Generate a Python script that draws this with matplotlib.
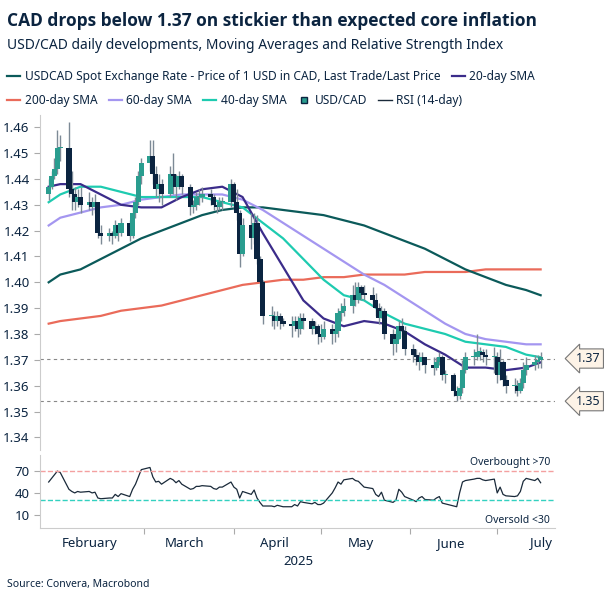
import numpy as np
import pandas as pd
import matplotlib
matplotlib.use('AGG')
import matplotlib.pyplot as plt
from matplotlib.lines import Line2D

plt.rcParams['font.family'] = ['Noto Sans', 'DejaVu Sans']

# daily candles, weekdays 27 Jan - 16 Jul 2025
closes = [1.437, 1.441, 1.444, 1.452, 1.452, 1.436, 1.434, 1.431, 1.433, 1.430,
          1.431, 1.429, 1.431, 1.419, 1.418, 1.419, 1.418, 1.422, 1.419, 1.423,
          1.418, 1.427, 1.431, 1.441, 1.446, 1.449, 1.442, 1.436, 1.438, 1.434,
          1.442, 1.441, 1.437, 1.441, 1.437, 1.429, 1.430, 1.433, 1.433, 1.434,
          1.433, 1.430, 1.429, 1.431, 1.431, 1.438, 1.431, 1.427, 1.411, 1.422,
          1.417, 1.423, 1.409, 1.400, 1.387, 1.387, 1.385, 1.387, 1.385, 1.384,
          1.383, 1.385, 1.382, 1.386, 1.385, 1.382, 1.383, 1.380, 1.379, 1.382,
          1.380, 1.381, 1.388, 1.389, 1.391, 1.395, 1.393, 1.398, 1.396, 1.395,
          1.393, 1.390, 1.386, 1.389, 1.380, 1.376, 1.378, 1.383, 1.381, 1.374,
          1.372, 1.371, 1.369, 1.371, 1.368, 1.367, 1.369, 1.371, 1.364, 1.364,
          1.358, 1.356, 1.359, 1.366, 1.371, 1.371, 1.373, 1.373, 1.372, 1.371,
          1.371, 1.364, 1.369, 1.362, 1.360, 1.360, 1.358, 1.361, 1.366, 1.368,
          1.369, 1.370, 1.371]
highs = [1.440, 1.443, 1.448, 1.459, 1.457, 1.462, 1.443, 1.437, 1.436, 1.437,
         1.435, 1.433, 1.434, 1.431, 1.422, 1.421, 1.420, 1.424, 1.423, 1.425,
         1.424, 1.429, 1.433, 1.443, 1.448, 1.455, 1.455, 1.445, 1.442, 1.440,
         1.445, 1.450, 1.442, 1.443, 1.442, 1.438, 1.432, 1.435, 1.436, 1.437,
         1.436, 1.434, 1.431, 1.433, 1.433, 1.440, 1.439, 1.436, 1.428, 1.425,
         1.427, 1.427, 1.426, 1.410, 1.401, 1.391, 1.389, 1.389, 1.388, 1.386,
         1.387, 1.387, 1.387, 1.388, 1.388, 1.386, 1.385, 1.384, 1.384, 1.385,
         1.384, 1.384, 1.390, 1.392, 1.394, 1.399, 1.400, 1.400, 1.399, 1.399,
         1.398, 1.396, 1.392, 1.391, 1.390, 1.382, 1.381, 1.385, 1.386, 1.383,
         1.376, 1.374, 1.373, 1.373, 1.371, 1.371, 1.371, 1.373, 1.372, 1.366,
         1.365, 1.360, 1.361, 1.370, 1.373, 1.374, 1.380, 1.375, 1.374, 1.374,
         1.375, 1.373, 1.374, 1.370, 1.364, 1.363, 1.362, 1.363, 1.369, 1.371,
         1.372, 1.372, 1.373]
lows = [1.432, 1.436, 1.440, 1.442, 1.447, 1.433, 1.428, 1.428, 1.429, 1.427,
        1.428, 1.426, 1.427, 1.417, 1.415, 1.416, 1.415, 1.417, 1.416, 1.418,
        1.416, 1.417, 1.425, 1.430, 1.438, 1.443, 1.438, 1.433, 1.431, 1.430,
        1.433, 1.434, 1.432, 1.436, 1.434, 1.426, 1.427, 1.428, 1.430, 1.431,
        1.430, 1.428, 1.427, 1.428, 1.428, 1.429, 1.428, 1.424, 1.406, 1.410,
        1.413, 1.415, 1.407, 1.398, 1.384, 1.383, 1.382, 1.383, 1.382, 1.383,
        1.379, 1.381, 1.379, 1.380, 1.382, 1.380, 1.380, 1.376, 1.377, 1.378,
        1.376, 1.377, 1.379, 1.385, 1.387, 1.388, 1.391, 1.392, 1.393, 1.393,
        1.391, 1.387, 1.384, 1.386, 1.378, 1.372, 1.373, 1.378, 1.379, 1.372,
        1.369, 1.368, 1.366, 1.368, 1.365, 1.364, 1.366, 1.368, 1.362, 1.361,
        1.356, 1.354, 1.355, 1.357, 1.365, 1.368, 1.370, 1.370, 1.369, 1.368,
        1.365, 1.361, 1.362, 1.360, 1.357, 1.357, 1.356, 1.357, 1.359, 1.364,
        1.366, 1.367, 1.367]
first_open = 1.434

rsi = [55, 60, 65, 70, 68, 45, 42, 40, 42, 41,
       42, 40, 41, 33, 32, 33, 33, 38, 35, 39,
       35, 45, 52, 62, 72, 75, 62, 55, 56, 52,
       60, 58, 54, 57, 52, 45, 46, 49, 49, 50,
       49, 46, 45, 48, 48, 55, 48, 45, 33, 42,
       38, 44, 33, 27, 22, 22, 21, 23, 22, 21,
       21, 24, 22, 28, 27, 25, 27, 24, 24, 26,
       40, 47, 55, 52, 58, 60, 57, 56, 52, 48,
       46, 38, 35, 41, 30, 27, 30, 45, 41, 35,
       30, 28, 33, 35, 31, 30, 33, 35, 26, 25,
       22, 21, 40, 55, 57, 59, 60, 60, 58, 57,
       59, 40, 48, 38, 36, 35, 36, 42, 56, 60,
       57, 60, 54]

# moving averages
ma_dates = ['2025-01-27', '2025-01-31', '2025-02-07', '2025-02-14', '2025-02-21', '2025-02-28',
            '2025-03-07', '2025-03-14', '2025-03-21', '2025-03-28', '2025-04-04', '2025-04-11',
            '2025-04-18', '2025-04-25', '2025-05-02', '2025-05-09', '2025-05-16', '2025-05-23',
            '2025-05-30', '2025-06-06', '2025-06-13', '2025-06-20', '2025-06-27', '2025-07-04',
            '2025-07-11', '2025-07-16']
sma100 = [1.400, 1.403, 1.405, 1.409, 1.413, 1.417, 1.420, 1.423, 1.426, 1.428, 1.429, 1.429, 1.428,
          1.427, 1.426, 1.424, 1.422, 1.419, 1.416, 1.413, 1.409, 1.405, 1.402, 1.399, 1.397, 1.395]
sma20 = [1.437, 1.438, 1.438, 1.434, 1.430, 1.429, 1.429, 1.433, 1.436, 1.437, 1.433, 1.419, 1.406,
         1.393, 1.386, 1.383, 1.385, 1.384, 1.381, 1.376, 1.372, 1.367, 1.367, 1.366, 1.367, 1.369]
sma200 = [1.384, 1.385, 1.386, 1.387, 1.389, 1.390, 1.391, 1.393, 1.395, 1.397, 1.399, 1.400, 1.401,
          1.401, 1.402, 1.402, 1.403, 1.403, 1.403, 1.404, 1.404, 1.404, 1.405, 1.405, 1.405, 1.405]
sma60 = [1.422, 1.425, 1.427, 1.429, 1.430, 1.432, 1.433, 1.434, 1.434, 1.434, 1.432, 1.428, 1.423,
         1.418, 1.413, 1.408, 1.403, 1.399, 1.394, 1.389, 1.384, 1.380, 1.378, 1.377, 1.376, 1.376]
sma40 = [1.431, 1.434, 1.437, 1.437, 1.435, 1.433, 1.433, 1.433, 1.433, 1.431, 1.429, 1.423, 1.417,
         1.409, 1.401, 1.395, 1.393, 1.388, 1.384, 1.382, 1.380, 1.377, 1.376, 1.375, 1.372, 1.371]

level_hi = 1.3705
level_lo = 1.354

navy = '#0b2440'
up_col = '#2a9d8f'
dn_col = '#0b2440'
wick_col = '#7d8a96'

dates = pd.bdate_range('2025-01-27', '2025-07-16')
mad = pd.to_datetime(ma_dates)
opens = [first_open] + closes[:-1]

fig = plt.figure(figsize=(6.06, 6.06), dpi=100)
ax = fig.add_axes([0.066, 0.257, 0.85, 0.553])
ax2 = fig.add_axes([0.066, 0.129, 0.85, 0.12])

ax.plot(mad, sma200, color='#ea6b5a', lw=1.6)
ax.plot(mad, sma100, color='#0b5a5a', lw=1.6)
ax.plot(mad, sma60, color='#a496f0', lw=1.6)
ax.plot(mad, sma40, color='#1ecbb0', lw=1.6)
ax.plot(mad, sma20, color='#3b2c8a', lw=1.6)

for d, o, c, h, l in zip(dates, opens, closes, highs, lows):
    col = up_col if c >= o else dn_col
    ax.vlines(d, l, h, color=wick_col, lw=1, zorder=3)
    ax.bar(d, max(abs(c - o), 0.0004), bottom=min(o, c), width=1.8, color=col, zorder=4)

ax.axhline(level_hi, color='#888888', ls='--', lw=0.8, dashes=(3, 3))
ax.axhline(level_lo, color='#888888', ls='--', lw=0.8, dashes=(3, 3))
for lv, txt in [(level_hi, '1.37'), (level_lo, '1.35')]:
    ax.annotate(txt, xy=(1.04, lv), xycoords=('axes fraction', 'data'), ha='left', va='center',
                fontsize=9, color=navy, annotation_clip=False,
                bbox=dict(boxstyle='larrow,pad=0.25', fc='#fdf3e7', ec='#777777', lw=0.8))

xl = (pd.Timestamp('2025-01-24'), pd.Timestamp('2025-07-21'))
ax.set_xlim(xl)
ax.set_ylim(1.335, 1.4647)
ax.set_yticks(np.arange(1.34, 1.461, 0.01))
ax.set_yticklabels(['%.2f' % v for v in np.arange(1.34, 1.461, 0.01)])
ax.set_xticks([])
for s in ['top', 'right', 'bottom']:
    ax.spines[s].set_visible(False)
ax.spines['left'].set_color('#cccccc')
ax.tick_params(axis='y', colors=navy, labelsize=9.5, length=4, color='#aaaaaa')

ax2.plot(dates, rsi, color='#1a2a3a', lw=0.9)
ax2.axhline(70, color='#f4a0a0', ls='--', lw=1)
ax2.axhline(30, color='#33d1c0', ls='--', lw=1)
ax2.text(0.99, 0.98, 'Overbought >70', transform=ax2.transAxes, ha='right', va='top', fontsize=7.5, color=navy)
ax2.text(0.99, 0.02, 'Oversold <30', transform=ax2.transAxes, ha='right', va='bottom', fontsize=7.5, color=navy)
ax2.set_xlim(xl)
ax2.set_ylim(-8, 92)
ax2.set_yticks([10, 40, 70])
for s in ['top', 'right']:
    ax2.spines[s].set_visible(False)
ax2.spines['left'].set_color('#cccccc')
ax2.spines['bottom'].set_color('#cccccc')
ax2.tick_params(axis='y', colors=navy, labelsize=9.5, length=4, color='#aaaaaa')
month_starts = pd.to_datetime(['2025-03-01', '2025-04-01', '2025-05-01', '2025-06-01', '2025-07-01'])
ax2.set_xticks(month_starts)
ax2.set_xticklabels([])
ax2.tick_params(axis='x', length=4, color='#aaaaaa')
mid = pd.to_datetime(['2025-02-10', '2025-03-15', '2025-04-15', '2025-05-15', '2025-06-15', '2025-07-16'])
for d, m in zip(mid, ['February', 'March', 'April', 'May', 'June', 'July']):
    ax2.text(d, -0.12, m, transform=ax2.get_xaxis_transform(), ha='center', va='top', fontsize=9.5, color=navy)
fig.text(0.492, 0.073, '2025', ha='center', va='center', fontsize=9.5, color=navy)

fig.text(0.012, 0.965, 'CAD drops below 1.37 on stickier than expected core inflation',
         fontsize=12.5, fontweight='bold', family=['Open Sans', 'DejaVu Sans'], color=navy, va='center')
fig.text(0.012, 0.925, 'USD/CAD daily developments, Moving Averages and Relative Strength Index',
         fontsize=10, color=navy, va='center')
fig.text(0.012, 0.035, 'Source: Convera, Macrobond', fontsize=7.5, color=navy, va='center')

h1 = [Line2D([], [], color='#0b5a5a', lw=1.6), Line2D([], [], color='#3b2c8a', lw=1.6)]
l1 = ['USDCAD Spot Exchange Rate - Price of 1 USD in CAD, Last Trade/Last Price', '20-day SMA']
h2 = [Line2D([], [], color='#ea6b5a', lw=1.6), Line2D([], [], color='#a496f0', lw=1.6),
      Line2D([], [], color='#1ecbb0', lw=1.6),
      Line2D([], [], color=up_col, marker='s', ms=5, mec=navy, lw=0),
      Line2D([], [], color='#1a2a3a', lw=1)]
l2 = ['200-day SMA', '60-day SMA', '40-day SMA', 'USD/CAD', 'RSI (14-day)']
kw = dict(frameon=False, fontsize=8.6, handlelength=1.1, handletextpad=0.4, columnspacing=0.9,
          labelcolor=navy, borderaxespad=0, borderpad=0)
fig.legend(h1, l1, ncol=2, loc='upper left', bbox_to_anchor=(0.012, 0.885), **kw)
fig.legend(h2, l2, ncol=5, loc='upper left', bbox_to_anchor=(0.012, 0.845), **kw)

plt.savefig('out.png', dpi=100)
plt.close()
